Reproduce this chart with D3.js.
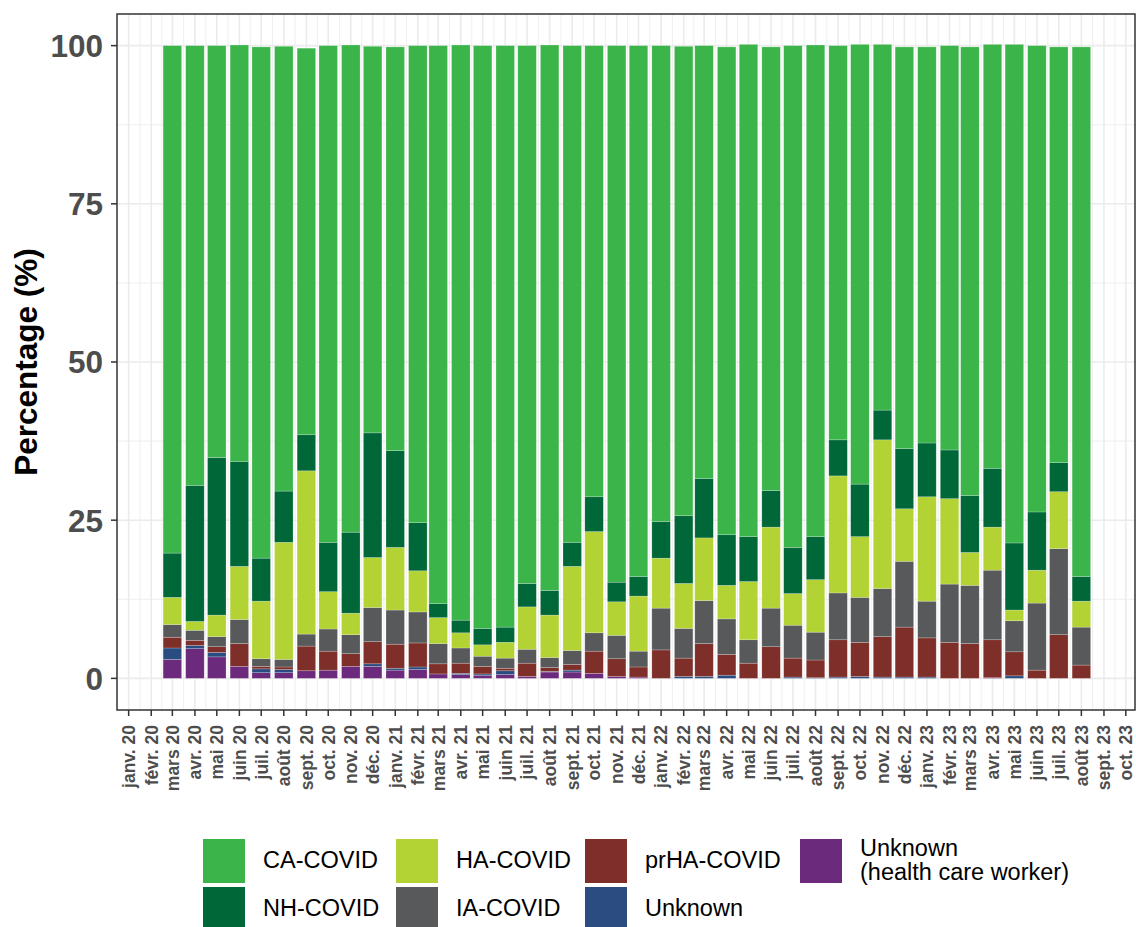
<!DOCTYPE html>
<html>
<head>
<meta charset="utf-8">
<script src="https://cdn.jsdelivr.net/npm/d3@7"></script>
<style>
  body { margin: 0; background: #fff; }
  text { font-family: "Liberation Sans", Arial, sans-serif; }
</style>
</head>
<body>
<div id="chart"></div>
<script>
// --- Data --- //

// Months with a bar (first day of month)
var months = ["2020-03", "2020-04", "2020-05", "2020-06", "2020-07", "2020-08", "2020-09",
  "2020-10", "2020-11", "2020-12", "2021-01", "2021-02", "2021-03", "2021-04", "2021-05",
  "2021-06", "2021-07", "2021-08", "2021-09", "2021-10", "2021-11", "2021-12", "2022-01",
  "2022-02", "2022-03", "2022-04", "2022-05", "2022-06", "2022-07", "2022-08", "2022-09",
  "2022-10", "2022-11", "2022-12", "2023-01", "2023-02", "2023-03", "2023-04", "2023-05",
  "2023-06", "2023-07", "2023-08"];

// Axis ticks
var tickMonths = ["2020-01", "2020-02", "2020-03", "2020-04", "2020-05", "2020-06", "2020-07",
  "2020-08", "2020-09", "2020-10", "2020-11", "2020-12", "2021-01", "2021-02", "2021-03",
  "2021-04", "2021-05", "2021-06", "2021-07", "2021-08", "2021-09", "2021-10", "2021-11",
  "2021-12", "2022-01", "2022-02", "2022-03", "2022-04", "2022-05", "2022-06", "2022-07",
  "2022-08", "2022-09", "2022-10", "2022-11", "2022-12", "2023-01", "2023-02", "2023-03",
  "2023-04", "2023-05", "2023-06", "2023-07", "2023-08", "2023-09", "2023-10"];
var tickLabels = ["janv. 20", "févr. 20", "mars 20", "avr. 20", "mai 20", "juin 20", "juil. 20",
  "août 20", "sept. 20", "oct. 20", "nov. 20", "déc. 20", "janv. 21", "févr. 21", "mars 21",
  "avr. 21", "mai 21", "juin 21", "juil. 21", "août 21", "sept. 21", "oct. 21", "nov. 21",
  "déc. 21", "janv. 22", "févr. 22", "mars 22", "avr. 22", "mai 22", "juin 22", "juil. 22",
  "août 22", "sept. 22", "oct. 22", "nov. 22", "déc. 22", "janv. 23", "févr. 23", "mars 23",
  "avr. 23", "mai 23", "juin 23", "juil. 23", "août 23", "sept. 23", "oct. 23"];
var yTicks = [0, 25, 50, 75, 100];

// Percentages per category (bottom of stack first)
var uhcw = [3.0, 4.7, 3.4, 1.9, 0.9, 0.9, 1.2, 1.3, 1.9, 1.9, 1.3, 1.4, 0.7, 0.6, 0.5, 0.6, 0.3,
  1.0, 1.0, 0.8, 0.3, 0.2, 0, 0, 0, 0, 0, 0, 0, 0, 0, 0, 0, 0, 0, 0, 0, 0.1, 0, 0, 0, 0];
var unknown = [1.8, 0.5, 0.7, 0, 0.6, 0.5, 0, 0, 0, 0.4, 0.3, 0.4, 0, 0.2, 0.2, 0.6, 0, 0.1,
  0.3, 0, 0, 0, 0, 0.3, 0.3, 0.5, 0, 0, 0.2, 0.1, 0.2, 0.3, 0.2, 0.2, 0.2, 0, 0, 0, 0.4, 0, 0, 0];
var prha = [1.7, 0.8, 0.9, 3.6, 0.4, 0.4, 3.9, 3.0, 2.0, 3.5, 3.8, 3.8, 1.6, 1.6, 1.2, 0.4, 2.1,
  0.6, 0.9, 3.5, 2.8, 1.6, 4.5, 2.9, 5.2, 3.3, 2.4, 5.0, 3.0, 2.8, 5.9, 5.4, 6.4, 7.9, 6.2, 5.7,
  5.5, 6.0, 3.8, 1.3, 6.9, 2.1];
var ia = [2.0, 1.6, 1.6, 3.8, 1.2, 1.2, 1.9, 3.5, 3.0, 5.4, 5.4, 4.9, 3.2, 2.4, 1.6, 1.6, 2.2,
  1.6, 2.2, 2.9, 3.7, 2.5, 6.6, 4.7, 6.8, 5.6, 3.7, 6.1, 5.2, 4.4, 7.4, 7.1, 7.6, 10.4, 5.8, 9.2,
  9.2, 11.0, 4.9, 10.6, 13.6, 6.0];
var ha = [4.3, 1.4, 3.4, 8.4, 9.1, 18.5, 25.8, 5.9, 3.4, 7.9, 9.9, 6.5, 4.1, 2.4, 1.8, 2.5, 6.7,
  6.7, 13.3, 16.0, 5.3, 8.7, 7.9, 7.1, 9.9, 5.3, 9.2, 12.8, 5.0, 8.3, 18.5, 9.6, 23.5, 8.3, 16.5,
  13.5, 5.2, 6.8, 1.7, 5.2, 9.0, 4.1];
var nh = [7.0, 21.5, 24.9, 16.6, 6.8, 8.1, 5.7, 7.8, 12.8, 19.7, 15.3, 7.6, 2.2, 2.0, 2.6, 2.4,
  3.7, 3.9, 3.8, 5.5, 3.1, 3.1, 5.8, 10.7, 9.4, 8.0, 7.1, 5.8, 7.3, 6.8, 5.7, 8.3, 4.7, 9.5, 8.5,
  7.7, 9.0, 9.3, 10.6, 9.2, 4.6, 3.9];
var ca = [80.2, 69.5, 65.1, 65.8, 80.8, 70.3, 61.1, 78.5, 77.0, 61.1, 63.8, 75.4, 88.2, 90.9,
  92.1, 91.9, 85.0, 86.2, 78.5, 71.3, 84.8, 83.9, 75.2, 74.2, 68.4, 77.1, 77.8, 70.1, 79.3, 77.7,
  62.3, 69.5, 57.8, 63.5, 62.6, 63.9, 70.9, 67.0, 78.8, 73.7, 65.7, 83.7];

var seriesKeys = ["uhcw", "unknown", "prha", "ia", "ha", "nh", "ca"];
var seriesValues = { uhcw: uhcw, unknown: unknown, prha: prha, ia: ia, ha: ha, nh: nh, ca: ca };
var seriesColors = {
  ca: "#3bb54a", nh: "#006838", ha: "#b3d335", ia: "#58595b",
  prha: "#7f2f29", unknown: "#2a4c80", uhcw: "#6c2a7c"
};
// Legend, filled column by column
var legendItems = [
  { key: "ca", label: ["CA-COVID"] },
  { key: "nh", label: ["NH-COVID"] },
  { key: "ha", label: ["HA-COVID"] },
  { key: "ia", label: ["IA-COVID"] },
  { key: "prha", label: ["prHA-COVID"] },
  { key: "unknown", label: ["Unknown"] },
  { key: "uhcw", label: ["Unknown", "(health care worker)"] }
];

// --- Layout --- //
var W = 1136, H = 927;
var panel = { left: 117, right: 1135, top: 14, bottom: 710 };
var parseMonth = d3.utcParse("%Y-%m");

var svg = d3.select("#chart").append("svg").attr("width", W).attr("height", H);

var x = d3.scaleUtc()
  .domain([Date.UTC(2019, 11, 16), Date.UTC(2023, 9, 15)])
  .range([panel.left, 1136]);
var y = d3.scaleLinear().domain([-5, 105]).range([panel.bottom, panel.top]);

var table = months.map(function(m, i) {
  var row = { date: parseMonth(m) };
  seriesKeys.forEach(function(k) { row[k] = seriesValues[k][i]; });
  return row;
});
var stacked = d3.stack().keys(seriesKeys)(table);

// --- Grid --- //
var grid = svg.append("g");
var tickDates = tickMonths.map(parseMonth);
var minorX = tickDates.slice(0, -1).map(function(d, i) {
  return new Date((d.getTime() + tickDates[i + 1].getTime()) / 2);
});
grid.selectAll(".minx").data(minorX).join("line")
  .attr("x1", function(d) { return x(d); }).attr("x2", function(d) { return x(d); })
  .attr("y1", panel.top).attr("y2", panel.bottom)
  .attr("stroke", "#ebebeb").attr("stroke-width", 0.8);
grid.selectAll(".miny").data([12.5, 37.5, 62.5, 87.5]).join("line")
  .attr("x1", panel.left).attr("x2", panel.right)
  .attr("y1", function(d) { return y(d); }).attr("y2", function(d) { return y(d); })
  .attr("stroke", "#ebebeb").attr("stroke-width", 0.8);
grid.selectAll(".majx").data(tickDates).join("line")
  .attr("x1", function(d) { return x(d); }).attr("x2", function(d) { return x(d); })
  .attr("y1", panel.top).attr("y2", panel.bottom)
  .attr("stroke", "#ebebeb").attr("stroke-width", 1.6);
grid.selectAll(".majy").data(yTicks).join("line")
  .attr("x1", panel.left).attr("x2", panel.right)
  .attr("y1", function(d) { return y(d); }).attr("y2", function(d) { return y(d); })
  .attr("stroke", "#ebebeb").attr("stroke-width", 1.6);

// --- Bars --- //
var barW = 18.5;
svg.append("g").selectAll("g").data(stacked).join("g")
  .attr("fill", function(s) { return seriesColors[s.key]; })
  .selectAll("rect").data(function(s) { return s; }).join("rect")
  .attr("x", function(d) { return x(d.data.date) - barW / 2; })
  .attr("width", barW)
  .attr("y", function(d) { return y(d[1]); })
  .attr("height", function(d) { return Math.max(0, y(d[0]) - y(d[1])); })
  .attr("stroke", "rgba(255,255,255,0.35)").attr("stroke-width", 0.6);

// --- Panel border --- //
svg.append("rect")
  .attr("x", panel.left).attr("y", panel.top)
  .attr("width", panel.right - panel.left).attr("height", panel.bottom - panel.top)
  .attr("fill", "none").attr("stroke", "#333333").attr("stroke-width", 1.5);

// --- Axes --- //
var yAxis = svg.append("g");
yAxis.selectAll("line").data(yTicks).join("line")
  .attr("x1", panel.left - 6).attr("x2", panel.left)
  .attr("y1", function(d) { return y(d); }).attr("y2", function(d) { return y(d); })
  .attr("stroke", "#333333").attr("stroke-width", 1.5);
yAxis.selectAll("text").data(yTicks).join("text")
  .attr("x", 103).attr("y", function(d) { return y(d); }).attr("dy", "0.36em")
  .attr("text-anchor", "end").attr("font-size", 31.5).attr("font-weight", "bold")
  .attr("fill", "#4d4d4d").text(function(d) { return d; });

svg.append("text")
  .attr("transform", "translate(37," + (panel.top + panel.bottom) / 2 + ") rotate(-90)")
  .attr("text-anchor", "middle").attr("font-size", 31.5).attr("font-weight", "bold")
  .attr("fill", "#000").text("Percentage (%)");

var xAxis = svg.append("g");
xAxis.selectAll("line").data(tickDates).join("line")
  .attr("x1", function(d) { return x(d); }).attr("x2", function(d) { return x(d); })
  .attr("y1", panel.bottom).attr("y2", panel.bottom + 6)
  .attr("stroke", "#333333").attr("stroke-width", 1.5);
xAxis.selectAll("text").data(tickDates).join("text")
  .attr("transform", function(d) { return "translate(" + x(d) + "," + (panel.bottom + 15) + ") rotate(-90)"; })
  .attr("dy", "0.36em").attr("text-anchor", "end")
  .attr("font-size", 17.5).attr("font-weight", "bold").attr("fill", "#4d4d4d")
  .text(function(d, i) { return tickLabels[i]; });

// --- Legend --- //
var colX = [203, 396, 585, 800];
var rowY = [839, 887];
var keyW = 42, keyH = 44;
var legend = svg.append("g").selectAll("g").data(legendItems).join("g")
  .attr("transform", function(d, i) {
    return "translate(" + colX[Math.floor(i / 2)] + "," + rowY[i % 2] + ")";
  });
legend.append("rect")
  .attr("width", keyW).attr("height", keyH)
  .attr("fill", function(d) { return seriesColors[d.key]; });
legend.each(function(d) {
  var g = d3.select(this);
  var n = d.label.length;
  d.label.forEach(function(line, j) {
    g.append("text")
      .attr("x", keyW + 18)
      .attr("y", keyH / 2 + (j - (n - 1) / 2) * 24 - 1)
      .attr("dy", "0.36em").attr("font-size", 23.5).attr("fill", "#000")
      .text(line);
  });
});
</script>
</body>
</html>
